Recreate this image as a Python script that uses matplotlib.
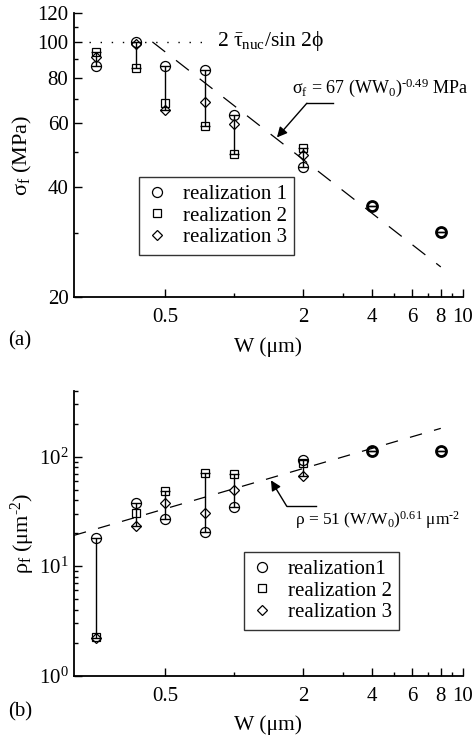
import numpy as np
import matplotlib
matplotlib.use("Agg")
import matplotlib.pyplot as plt
from matplotlib.ticker import FixedLocator, FixedFormatter, NullFormatter

plt.rcParams['font.family'] = ['Liberation Serif', 'DejaVu Serif']
plt.rcParams['mathtext.fontset'] = 'custom'
plt.rcParams['mathtext.rm'] = 'Liberation Serif'
plt.rcParams['mathtext.it'] = 'Liberation Serif'
plt.rcParams['mathtext.default'] = 'regular'

# ---------------- data ----------------
W = [0.25, 0.375, 0.5, 0.75, 1.0, 2.0, 4.0, 8.0]

# (a) failure stress sigma_f (MPa)
sig_r1 = [86, 100, 86, 84, 63, 45.6, 35.6, 30.2]
sig_r2 = [94, 85, 68, 59, 49.4, 51.2, np.nan, np.nan]
sig_r3 = [91, 99, 65, 68.6, 59.8, 49.1, np.nan, np.nan]

# (b) dislocation density rho_f (um^-2)
rho_r1 = [18.2, 37.8, 27.2, 20.6, 34.8, 93.9, 112, 112]
rho_r2 = [2.27, 30.9, 48.6, 71, 70, 87.6, np.nan, np.nan]
rho_r3 = [2.19, 23.3, 38.1, 30.9, 49.3, 66.2, np.nan, np.nan]

# fits stated on the chart
sig_fit_coef, sig_fit_exp = 67, -0.49
sig_fit_W = [0.44, 8.0]
rho_fit_coef, rho_fit_exp = 51, 0.61
rho_fit_W = [0.2, 8.0]
tau_level = 100
tau_W = [0.232, 0.74]

x_major = [0.5, 2, 4, 6, 8, 10]
x_major_labels = ['0.5', '2', '4', '6', '8', '10']
x_minor = [1, 3, 5, 7, 9]
sig_major = [20, 40, 60, 80, 100, 120]
sig_minor = [30, 50, 70, 90, 110]

legend_a = ['realization 1', 'realization 2', 'realization 3']
legend_b = ['realization1', 'realization 2', 'realization 3']

# ---------------- figure ----------------
fig = plt.figure(figsize=(4.73, 7.35), dpi=100)
ax1 = fig.add_axes([0.1564, 0.5959, 0.8224, 0.3860])
ax2 = fig.add_axes([0.1564, 0.0807, 0.8224, 0.3877])

mk = dict(mfc='none', mec='k', mew=0.9, ls='none', color='k')
styles = [('o', 7.2), ('s', 5.6), ('D', 5.3)]

FS_TICK = 15
FS_LAB = 15.5
FS_LEG = 15


def draw(ax, W, series, labels):
    arr = np.array(series, dtype=float)
    W = np.array(W)
    ymin = np.nanmin(arr, axis=0)
    ymax = np.nanmax(arr, axis=0)
    ymid = np.sqrt(ymin * ymax)
    ax.errorbar(W, ymid, yerr=[ymid - ymin, ymax - ymid], fmt='none',
                ecolor='k', elinewidth=1.0, capsize=3.6, capthick=1.0, zorder=2)
    handles = []
    for s, (m, ms), lab in zip(arr, styles, labels):
        h, = ax.plot(W, s, marker=m, ms=ms, label=lab, zorder=3, **mk)
        handles.append(h)
    # points where only one realization is recorded (coinciding values)
    single = np.isnan(arr[1]) & np.isnan(arr[2])
    ax.plot(W[single], arr[0][single], marker='o', ms=7.2, mfc='none',
            mec='k', mew=2.0, ls='none', zorder=3)
    return handles


def style_axes(ax):
    ax.set_xscale('log')
    ax.set_yscale('log')
    for sp in ['top', 'right']:
        ax.spines[sp].set_visible(False)
    for sp in ['left', 'bottom']:
        ax.spines[sp].set_linewidth(1.3)
    ax.set_xlim(0.2, 10)
    ax.xaxis.set_major_locator(FixedLocator(x_major))
    ax.xaxis.set_major_formatter(FixedFormatter(x_major_labels))
    ax.xaxis.set_minor_locator(FixedLocator(x_minor))
    ax.xaxis.set_minor_formatter(NullFormatter())
    ax.tick_params(which='major', direction='in', length=5.5, width=1.0,
                   labelsize=FS_TICK)
    ax.tick_params(which='minor', direction='in', length=3, width=1.0)
    ax.tick_params(axis='x', which='major', pad=8)
    ax.tick_params(axis='y', which='major', pad=4)
    ax.set_xlabel('W (μm)', fontsize=FS_LAB, labelpad=7)


def make_legend(ax, handles, anchor):
    leg = ax.legend(handles=handles, loc='upper left', bbox_to_anchor=anchor,
                    fontsize=FS_LEG, frameon=True, fancybox=False,
                    borderpad=0.35, handlelength=1.0, handletextpad=0.75,
                    labelspacing=0.1, borderaxespad=0, numpoints=1)
    leg.get_frame().set_edgecolor('k')
    leg.get_frame().set_linewidth(1.0)
    return leg


# ---------- panel (a) ----------
style_axes(ax1)
ax1.set_ylim(20, 120)
ax1.yaxis.set_major_locator(FixedLocator(sig_major))
ax1.yaxis.set_major_formatter(FixedFormatter([str(v) for v in sig_major]))
ax1.yaxis.set_minor_locator(FixedLocator(sig_minor))
ax1.yaxis.set_minor_formatter(NullFormatter())
ax1.set_ylabel(r'$\sigma_f$ (MPa)', fontsize=16, labelpad=2.5)

ha = draw(ax1, W, [sig_r1, sig_r2, sig_r3], legend_a)
wf = np.array(sig_fit_W)
ax1.plot(wf, sig_fit_coef * wf ** sig_fit_exp, color='k', lw=0.9,
         dashes=(13, 11), zorder=1)
ax1.plot(tau_W, [tau_level, tau_level], color='k', lw=1.0,
         dashes=(1, 7), zorder=1)
ax1.text(0.84, 101, r'2 $\bar{\tau}_{nuc}$/sin 2ϕ', fontsize=15.5,
         va='center', ha='left')
ax1.text(1.79, 75.2, r'$\sigma_f$ = 67 (WW$_0$)$^{\text{-0.49}}$ MPa',
         fontsize=13, va='center', ha='left')
ax1.plot([2.7, 2.08], [68, 68], color='k', lw=1.0, clip_on=False)
ax1.annotate('', xy=(1.54, 54.8), xytext=(2.08, 68),
             arrowprops=dict(arrowstyle='-|>', color='k', lw=1.0,
                             mutation_scale=15, shrinkA=0, shrinkB=0))
make_legend(ax1, ha, (0.167, 0.423))

# ---------- panel (b) ----------
style_axes(ax2)
ax2.set_ylim(1, 400)
ax2.yaxis.set_major_locator(FixedLocator([1, 10, 100]))
ax2.yaxis.set_major_formatter(FixedFormatter([r'10$^0$', r'10$^1$', r'10$^2$']))
ax2.yaxis.set_minor_locator(FixedLocator(
    [m * d for d in [1, 10, 100] for m in range(2, 10) if m * d <= 400]))
ax2.yaxis.set_minor_formatter(NullFormatter())
ax2.set_ylabel(r'$\rho_f$ (μm$^{\text{-2}}$)', fontsize=16, labelpad=1)

hb = draw(ax2, W, [rho_r1, rho_r2, rho_r3], legend_b)
wr = np.array(rho_fit_W)
ax2.plot(wr, rho_fit_coef * wr ** rho_fit_exp, color='k', lw=0.9,
         dashes=(10, 10), zorder=1)
ax2.text(1.84, 26.3, r'ρ = 51 (W/W$_0$)$^{0.61}$ μm$^{\text{-2}}$',
         fontsize=12.5, va='center', ha='left')
ax2.plot([2.27, 1.70], [35.2, 35.2], color='k', lw=1.0)
ax2.annotate('', xy=(1.45, 60.8), xytext=(1.70, 35.2),
             arrowprops=dict(arrowstyle='-|>', color='k', lw=1.0,
                             mutation_scale=15, shrinkA=0, shrinkB=0))
make_legend(ax2, hb, (0.437, 0.434))

fig.text(8 / 473, 1 - 341 / 735, '(a)', fontsize=15, va='center', ha='left')
fig.text(8 / 473, 1 - 712 / 735, '(b)', fontsize=15, va='center', ha='left')

fig.savefig('out.png', dpi=100)
